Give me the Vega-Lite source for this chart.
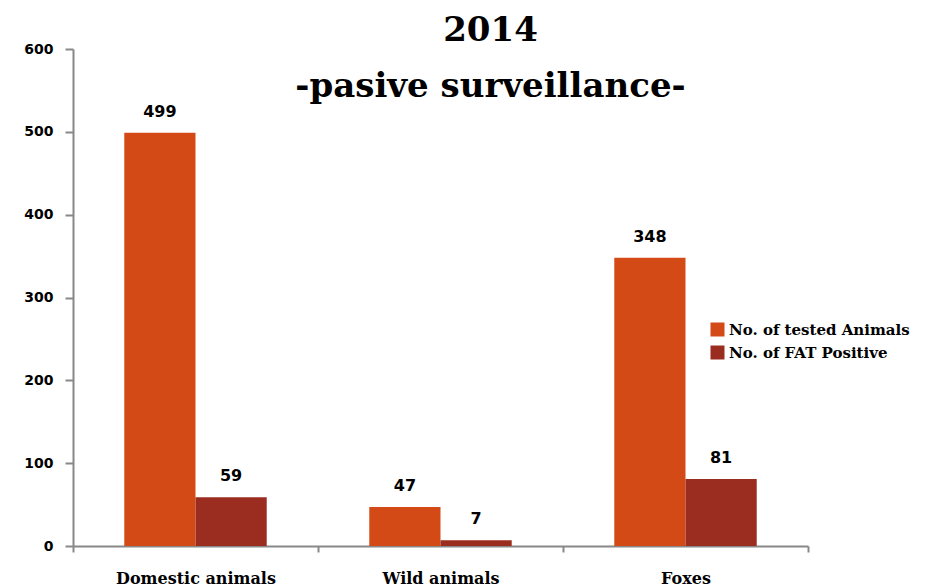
{
  "$schema": "https://vega.github.io/schema/vega-lite/v6.json",
  "width": 735,
  "height": 497,
  "autosize": {"type": "none"},
  "padding": {"left": 73, "top": 49, "right": 133, "bottom": 41},
  "background": "white",
  "title": {
    "text": ["2014", "-pasive surveillance-"],
    "font": "DejaVu Serif",
    "fontWeight": "bold",
    "fontSize": 34,
    "lineHeight": 56,
    "color": "#000000",
    "anchor": "middle",
    "dx": 50,
    "offset": -62,
    "frame": "group"
  },
  "data": {
    "values": [
      {"category": "Domestic animals", "series": "No. of tested Animals", "value": 499},
      {"category": "Domestic animals", "series": "No. of FAT Positive", "value": 59},
      {"category": "Wild animals", "series": "No. of tested Animals", "value": 47},
      {"category": "Wild animals", "series": "No. of FAT Positive", "value": 7},
      {"category": "Foxes", "series": "No. of tested Animals", "value": 348},
      {"category": "Foxes", "series": "No. of FAT Positive", "value": 81}
    ]
  },
  "encoding": {
    "x": {
      "field": "category",
      "type": "nominal",
      "sort": ["Domestic animals", "Wild animals", "Foxes"],
      "scale": {"paddingInner": 0, "paddingOuter": 0},
      "axis": {
        "title": null,
        "labelAngle": 0,
        "labelFont": "DejaVu Serif",
        "labelFontWeight": "bold",
        "labelFontSize": 16,
        "labelColor": "#000000",
        "labelPadding": 18,
        "domainColor": "#888888",
        "domainWidth": 2,
        "tickColor": "#888888",
        "tickWidth": 2,
        "tickSize": 6,
        "tickBand": "extent"
      }
    },
    "xOffset": {
      "field": "series",
      "type": "nominal",
      "sort": ["No. of tested Animals", "No. of FAT Positive"],
      "scale": {"paddingInner": 0, "paddingOuter": 0.72}
    },
    "y": {
      "field": "value",
      "type": "quantitative",
      "scale": {"domain": [0, 600]},
      "axis": {
        "title": null,
        "values": [0, 100, 200, 300, 400, 500, 600],
        "grid": false,
        "labelFont": "DejaVu Sans",
        "labelFontWeight": "bold",
        "labelFontSize": 14,
        "labelColor": "#000000",
        "labelPadding": 12,
        "domainColor": "#888888",
        "domainWidth": 2,
        "tickColor": "#888888",
        "tickWidth": 2,
        "tickSize": 8
      }
    }
  },
  "layer": [
    {
      "mark": {"type": "bar"},
      "encoding": {
        "color": {
          "field": "series",
          "type": "nominal",
          "sort": ["No. of tested Animals", "No. of FAT Positive"],
          "scale": {"range": ["#D34A17", "#9B2C20"]},
          "legend": {
            "title": null,
            "orient": "none",
            "legendX": 637,
            "legendY": 273,
            "symbolType": "square",
            "symbolSize": 196,
            "symbolStrokeWidth": 0,
            "labelFont": "DejaVu Serif",
            "labelFontWeight": "bold",
            "labelFontSize": 15,
            "labelColor": "#000000",
            "labelLimit": 300,
            "rowPadding": 7,
            "labelOffset": 4
          }
        }
      }
    },
    {
      "mark": {
        "type": "text",
        "baseline": "bottom",
        "dy": -13,
        "font": "DejaVu Sans",
        "fontWeight": "bold",
        "fontSize": 16,
        "color": "#000000"
      },
      "encoding": {
        "text": {"field": "value", "type": "quantitative"}
      }
    }
  ],
  "config": {"view": {"stroke": null}}
}
